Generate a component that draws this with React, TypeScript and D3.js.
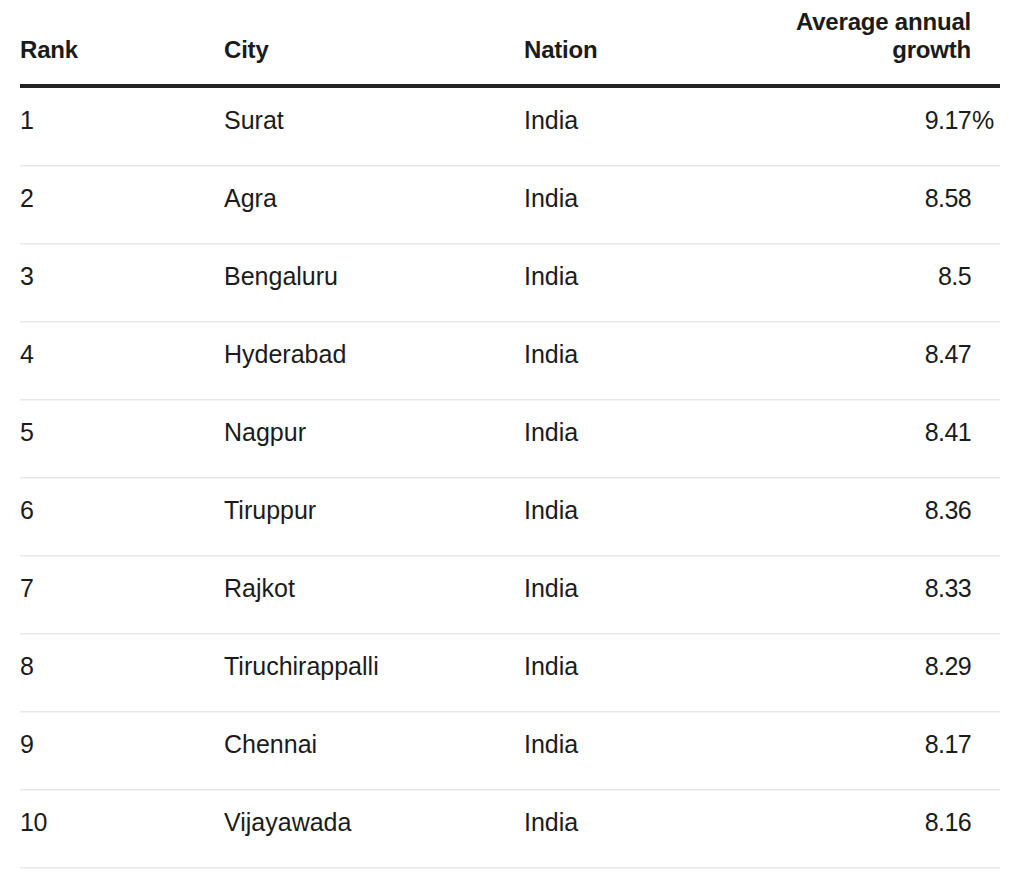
import React, { useEffect, useRef } from "react";
import * as d3 from "d3";

const headers = ["Rank", "City", "Nation"];
const growthHeader = ["Average annual", "growth"];
const ranks = [1, 2, 3, 4, 5, 6, 7, 8, 9, 10];
const cities = ["Surat", "Agra", "Bengaluru", "Hyderabad", "Nagpur", "Tiruppur", "Rajkot", "Tiruchirappalli", "Chennai", "Vijayawada"];
const nations = ["India", "India", "India", "India", "India", "India", "India", "India", "India", "India"];
const growth = ["9.17", "8.58", "8.5", "8.47", "8.41", "8.36", "8.33", "8.29", "8.17", "8.16"];

const W = 1030;
const H = 884;
const FONT = "'Liberation Sans', Arial, Helvetica, sans-serif";
const INK = "#1b1b1b";

export default function App() {
  const ref = useRef<SVGSVGElement>(null);
  useEffect(() => {
    const svg = d3.select(ref.current);
    svg.selectAll("*").remove();

    const left = 20, right = 1000;
    const colX = [20, 224, 524];
    const valueRight = 971;
    const headerLineY = 86;
    const rowH = 78;
    const y = d3.scaleLinear().domain([0, ranks.length]).range([headerLineY + 2, headerLineY + 2 + rowH * ranks.length]);

    // headers
    const hg = svg.append("g").attr("font-family", FONT).attr("font-weight", 700).attr("font-size", 24).attr("fill", INK);
    headers.forEach((h, i) => {
      hg.append("text").attr("x", colX[i]).attr("y", 58).attr("letter-spacing", -0.2).text(h);
    });
    growthHeader.forEach((h, i) => {
      hg.append("text").attr("x", valueRight).attr("y", 30 + i * 28).attr("text-anchor", "end").attr("letter-spacing", -0.2).text(h);
    });

    svg.append("rect").attr("x", left).attr("y", headerLineY - 2).attr("width", right - left).attr("height", 4).attr("fill", "#222");

    const rows = svg.append("g").attr("font-family", FONT).attr("font-size", 25).attr("fill", INK);
    ranks.forEach((r, i) => {
      const base = y(i) + 41;
      rows.append("text").attr("x", colX[0]).attr("y", base).attr("letter-spacing", -0.3).text(String(r));
      rows.append("text").attr("x", colX[1]).attr("y", base).text(cities[i]);
      rows.append("text").attr("x", colX[2]).attr("y", base).text(nations[i]);
      rows.append("text").attr("x", valueRight).attr("y", base).attr("text-anchor", "end").attr("letter-spacing", -0.6).text(growth[i]);
      if (i === 0) rows.append("text").attr("x", valueRight + 1).attr("y", base).text("%");
      svg.append("rect").attr("x", left).attr("y", y(i + 1) - 1).attr("width", right - left).attr("height", 1.5).attr("fill", "#e8e8e8");
    });
  }, []);
  return (
    <svg ref={ref} width={W} height={H} style={{ position: "absolute", left: 0, top: 0, background: "#fff" }} />
  );
}
